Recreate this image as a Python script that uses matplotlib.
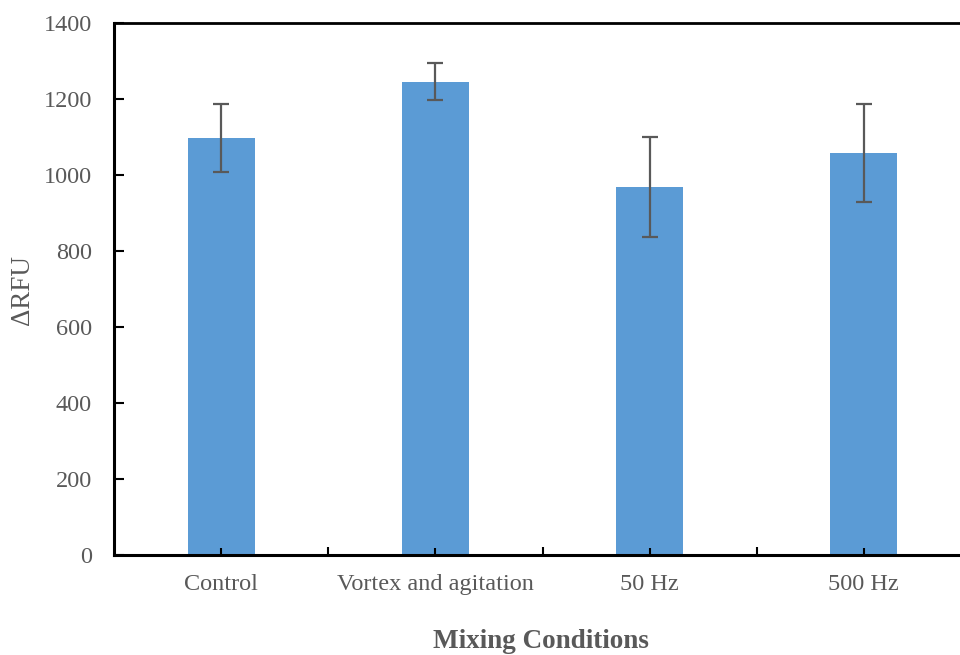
import matplotlib
matplotlib.use("Agg")
import matplotlib.pyplot as plt

categories = ["Control", "Vortex and agitation", "50 Hz", "500 Hz"]
values = [1097, 1246, 969, 1059]
errors = [89, 48, 132, 129]
y_ticks = [0, 200, 400, 600, 800, 1000, 1200, 1400]

plt.rcParams["font.family"] = ["Liberation Serif", "DejaVu Serif"]
text_color = "#595959"

fig = plt.figure(figsize=(9.6, 6.55), dpi=100)
ax = fig.add_axes([114 / 960, 100 / 655, 857 / 960, 532 / 655])

x = list(range(len(categories)))
ax.bar(x, values, width=0.313, color="#5B9BD5", zorder=2)
ax.errorbar(x, values, yerr=errors, fmt="none", ecolor="#595959",
            elinewidth=1.6, capsize=6, capthick=1.6, zorder=3)
ax.set_axisbelow(False)

ax.set_xlim(-0.5, 3.5)
ax.set_ylim(0, 1400)
ax.set_yticks(y_ticks)
ax.set_yticklabels([str(v) for v in y_ticks])

# ticks at category centres (labelled) and between categories (unlabelled)
ax.set_xticks(x)
ax.set_xticklabels(categories)
ax.set_xticks([0.5, 1.5, 2.5], minor=True)

ax.tick_params(axis="both", which="both", direction="in", colors="black",
               labelcolor=text_color, labelsize=17.5)
ax.tick_params(axis="x", which="major", length=5, width=1.5, pad=14)
ax.tick_params(axis="x", which="minor", length=6, width=1.5)
ax.tick_params(axis="y", length=7, width=1.5, pad=16)

for side in ["left", "bottom"]:
    ax.spines[side].set_linewidth(2.2)
    ax.spines[side].set_color("black")
ax.spines["top"].set_linewidth(2.0)
ax.spines["top"].set_color("black")
ax.spines["right"].set_linewidth(2.0)

fig.text(22 / 960, 1 - 290 / 655, "ΔRFU", rotation=90, fontsize=19.5,
         color=text_color, ha="center", va="center")
fig.text(541 / 960, 1 - 642 / 655, "Mixing Conditions", fontsize=19.5,
         fontweight="bold", color=text_color, ha="center", va="center")

fig.savefig("out.png", dpi=100)
